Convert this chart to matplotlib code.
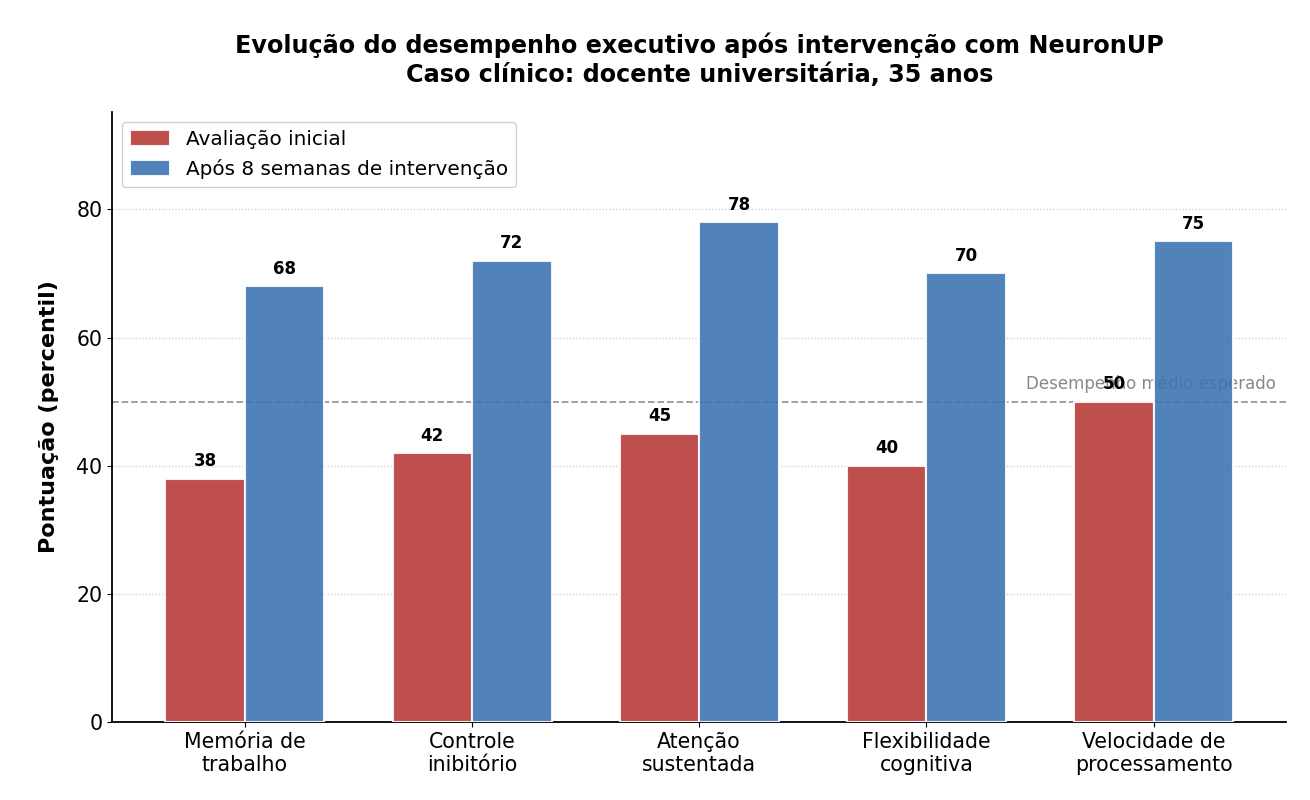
import matplotlib
matplotlib.use("Agg")
import matplotlib.pyplot as plt
import numpy as np

categories = ["Memória de\ntrabalho", "Controle\ninibitório", "Atenção\nsustentada",
              "Flexibilidade\ncognitiva", "Velocidade de\nprocessamento"]
initial = [38, 42, 45, 40, 50]
after = [68, 72, 78, 70, 75]
series_labels = ["Avaliação inicial", "Após 8 semanas de intervenção"]
reference_value = 50
reference_label = "Desempenho médio esperado"

fig = plt.figure(figsize=(13.1, 8), dpi=100)
ax = fig.add_axes([0.0855, 0.0975, 0.8965, 0.7625])

x = np.arange(len(categories))
w = 0.35
b1 = ax.bar(x - w/2, initial, w, color="#b83c3a", alpha=0.9, edgecolor="white",
            linewidth=1.5, label=series_labels[0], zorder=3)
b2 = ax.bar(x + w/2, after, w, color="#3f74b3", alpha=0.9, edgecolor="white",
            linewidth=1.5, label=series_labels[1], zorder=3)

for bars in (b1, b2):
    for r in bars:
        h = r.get_height()
        ax.text(r.get_x() + r.get_width()/2, h + 1.3, f"{int(h)}", ha="center", va="bottom",
                fontsize=12, fontweight="bold", zorder=5)

ax.axhline(reference_value, color="#999999", linestyle="--", linewidth=1.3, zorder=2)
ax.text(4.54, reference_value + 1.3, reference_label, ha="right", va="bottom",
        fontsize=12, color="#888888", zorder=2)

ax.set_ylim(0, 95.2)
ax.set_xticks(x)
ax.set_xticklabels(categories, fontsize=14.8)
ax.tick_params(axis="y", labelsize=14.8)
ax.set_ylabel("Pontuação (percentil)", fontsize=16, fontweight="bold", labelpad=12)
ax.yaxis.grid(True, linestyle=":", color="#cccccc", linewidth=0.9, zorder=0)
ax.set_axisbelow(True)
ax.spines["top"].set_visible(False)
ax.spines["right"].set_visible(False)
ax.spines["left"].set_linewidth(1.3)
ax.spines["bottom"].set_linewidth(1.3)

ax.legend(loc="upper left", fontsize=14.4, frameon=True, framealpha=0.9,
          handleheight=0.8)

fig.suptitle("Evolução do desempenho executivo após intervenção com NeuronUP\n"
             "Caso clínico: docente universitária, 35 anos",
             fontsize=17.2, fontweight="bold", y=0.959, x=0.534, linespacing=1.2)

fig.savefig("out.png", dpi=100)
